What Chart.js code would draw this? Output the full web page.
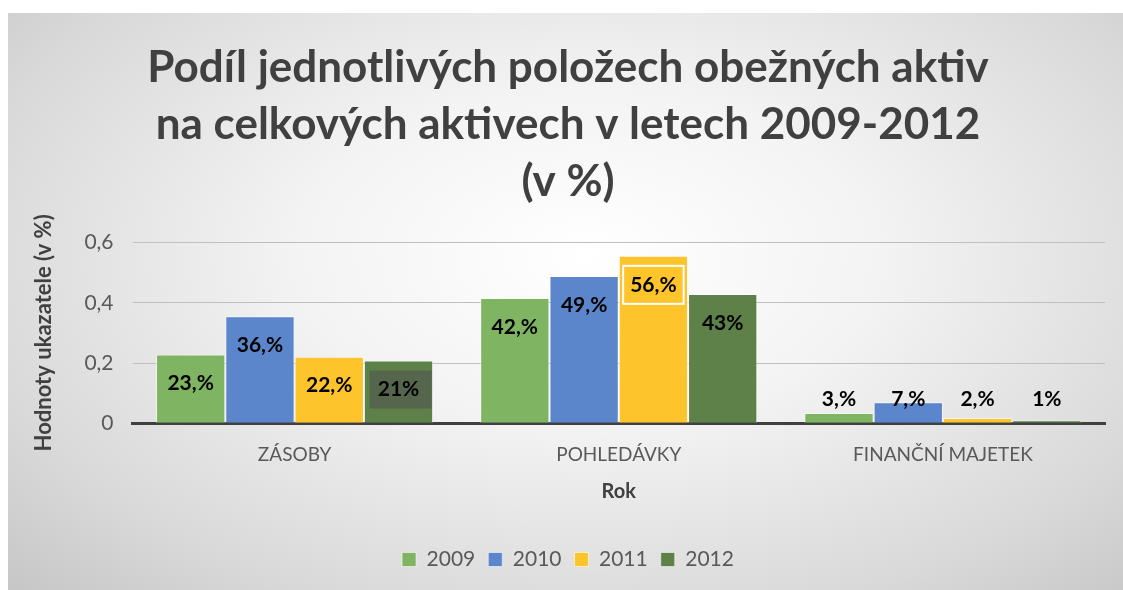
<!DOCTYPE html>
<html>
<head>
<meta charset="utf-8">
<script src="https://cdn.jsdelivr.net/npm/chart.js@4.4.1/dist/chart.umd.min.js"></script>
<style>
  html, body { margin: 0; padding: 0; background: #ffffff; }
  #frame {
    position: absolute; left: 8px; top: 13px; width: 1115px; height: 577px;
    background: radial-gradient(ellipse 75% 85% at 52% 42%, #ffffff 0%, #f3f3f3 35%, #d9d9d9 75%, #c4c4c4 100%);
  }
  #frame canvas { display: block; }
</style>
</head>
<body>
<div id="frame"><canvas id="podilChart" width="1115" height="577"></canvas></div>
<script>
// categories and series (share of total assets)
var categories = ['ZÁSOBY', 'POHLEDÁVKY', 'FINANČNÍ MAJETEK'];
var years = ['2009', '2010', '2011', '2012'];
var values2009 = [0.228, 0.416, 0.034];
var values2010 = [0.355, 0.489, 0.070];
var values2011 = [0.221, 0.556, 0.017];
var values2012 = [0.208, 0.429, 0.010];
// data labels as shown in the chart
var labels2009 = ['23,%', '42,%', '3,%'];
var labels2010 = ['36,%', '49,%', '7,%'];
var labels2011 = ['22,%', '56,%', '2,%'];
var labels2012 = ['21%', '43%', '1%'];
var yTicks = [0, 0.2, 0.4, 0.6];

var seriesColors = ['#7fb562', '#5b86cc', '#fec42c', '#5e8049'];
var allValues = [values2009, values2010, values2011, values2012];
var allLabels = [labels2009, labels2010, labels2011, labels2012];

var FONT = 'Lato, "Open Sans", sans-serif';

// draws the value labels on the bars
var barLabels = {
    id: 'barLabels',
    afterDatasetsDraw: function (chart) {
        var ctx = chart.ctx;
        var base = chart.scales.y.getPixelForValue(0);
        ctx.save();
        ctx.font = 'bold 21px ' + FONT;
        ctx.textAlign = 'center';
        ctx.textBaseline = 'middle';
        chart.data.datasets.forEach(function (ds, di) {
            var meta = chart.getDatasetMeta(di);
            meta.data.forEach(function (bar, i) {
                var text = ds.pointLabels[i];
                var y = Math.min(bar.y + 29, base - 24);
                var w = ctx.measureText(text).width;
                // special boxes seen in the original
                if (di === 3 && i === 0) {
                    ctx.fillStyle = 'rgba(80,80,80,0.55)';
                    ctx.fillRect(bar.x - 29, y - 19, 62, 38);
                }
                if (di === 2 && i === 1) {
                    ctx.strokeStyle = '#ffffff';
                    ctx.lineWidth = 2;
                    ctx.strokeRect(bar.x - w / 2 - 7, y - 19, w + 14, 38);
                }
                ctx.fillStyle = '#000000';
                ctx.fillText(text, bar.x, y);
            });
        });
        ctx.restore();
    }
};

var datasets = years.map(function (yr, k) {
    return {
        label: yr,
        data: allValues[k],
        pointLabels: allLabels[k],
        backgroundColor: seriesColors[k],
        borderColor: 'rgba(255,255,255,0.55)',
        borderWidth: 1,
        barPercentage: 1.0,
        categoryPercentage: 0.855
    };
});

new Chart(document.getElementById('podilChart').getContext('2d'), {
    type: 'bar',
    data: { labels: categories, datasets: datasets },
    plugins: [barLabels],
    options: {
        responsive: false,
        animation: false,
        layout: { padding: { left: 23, right: 18, top: 0, bottom: 10 } },
        plugins: {
            tooltip: { enabled: false },
            title: {
                display: true,
                text: ['Podíl jednotlivých položech obežných aktiv', 'na celkových aktivech v letech 2009-2012', '(v %)'],
                color: '#404040',
                font: { family: FONT, size: 44, weight: 'bold', lineHeight: 1.3 },
                padding: { top: 26, bottom: 32 }
            },
            legend: {
                position: 'bottom',
                labels: {
                    color: '#595959',
                    font: { family: FONT, size: 21 },
                    boxWidth: 14,
                    boxHeight: 14,
                    padding: 13
                }
            }
        },
        scales: {
            x: {
                grid: { display: false },
                border: { display: true, color: '#404040', width: 3 },
                ticks: { color: '#595959', font: { family: FONT, size: 19 }, padding: 12 },
                title: {
                    display: true, text: 'Rok', color: '#404040',
                    font: { family: FONT, size: 20, weight: 'bold' },
                    padding: { top: 2, bottom: 32 }
                }
            },
            y: {
                min: 0,
                max: 0.6,
                afterBuildTicks: function (axis) {
                    axis.ticks = yTicks.map(function (v) { return { value: v }; });
                },
                grid: { color: '#bfbfbf', lineWidth: 1, drawTicks: false },
                border: { display: false },
                ticks: {
                    color: '#595959',
                    font: { family: FONT, size: 21 },
                    padding: 19,
                    callback: function (v) { return String(v).replace('.', ','); }
                },
                title: {
                    display: true, text: 'Hodnoty ukazatele (v %)', color: '#404040',
                    font: { family: FONT, size: 22, weight: 'bold' },
                    padding: { top: 0, bottom: 8 }
                }
            }
        }
    }
});
</script>
</body>
</html>
